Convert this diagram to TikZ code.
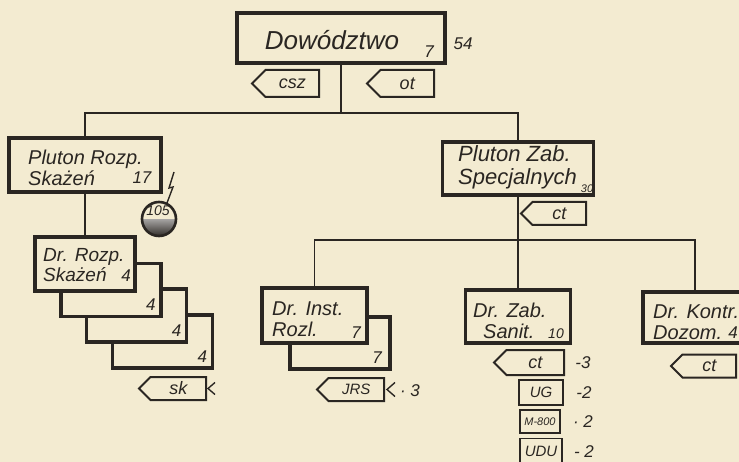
\documentclass[tikz,border=0pt]{standalone}
\usepackage{fontspec}
\setmainfont{Liberation Sans}
\usetikzlibrary{shapes.symbols,calc}
\definecolor{paper}{RGB}{243,235,209}
\definecolor{ink}{RGB}{42,38,34}

\begin{document}
\begin{tikzpicture}[x=1pt,y=-1pt,
  unit/.style={draw=ink,line width=3.4pt,fill=paper,inner sep=0pt},
  txt/.style={text=ink,font=\fontsize{20}{21}\selectfont\itshape,align=left,anchor=west,inner sep=0pt},
  num/.style={text=ink,font=\fontsize{17}{17}\selectfont\itshape,inner sep=0pt},
  tag/.style={draw=ink,line width=2pt,signal,signal to=west,fill=paper,inner sep=0pt,anchor=east,text=ink,font=\fontsize{18}{18}\selectfont\itshape},
  kit/.style={draw=ink,line width=1.8pt,fill=paper,inner sep=0pt,text=ink,font=\fontsize{15}{15}\selectfont\itshape},
  link/.style={draw=ink,line width=1.3pt}]

		% Paper and frame
		\fill[paper] (0,0) rectangle (739,462);
		\useasboundingbox (0,0) rectangle (739,462);

		% Draw the command box
		\node[unit,minimum width=208pt,minimum height=50pt] (dow) at (341,38) {};
		\node[txt,anchor=center,font=\fontsize{26}{26}\selectfont\itshape] (dowt) at (332,40) {Dowództwo};
		\node[num] (down) at (429,52) {7};
		\node[num] (dowm) at (463,44) {54};
		\node[tag,minimum width=67pt,minimum height=27pt] (csz) at (320,83.5) {csz};
		\node[tag,minimum width=67pt,minimum height=27pt] (ot) at (435,83.5) {ot};

		% Draw the two platoons
		\node[unit,minimum width=152pt,minimum height=54pt] (prs) at (85,165) {};
		\node[txt] (prst) at (28,168) {Pluton Rozp.\\Skażeń};
		\node[num] (prsn) at (142,178) {17};
		\node[unit,minimum width=151pt,minimum height=53pt] (pzs) at (518,168.5) {};
		\node[txt,font=\fontsize{22}{23}\selectfont\itshape] (pzst) at (458,167) {Pluton Zab.\\Specjalnych};
		\node[num,font=\fontsize{11}{11}\selectfont\itshape] (pzsn) at (587,189) {30};
		\node[tag,minimum width=65pt,minimum height=23pt] (ct1) at (587,213.5) {ct};

		% Radio station
		\node[circle,minimum size=36pt,inner sep=0pt] (rad) at (159,219) {};
		\begin{scope}
			\clip (rad.center) circle (17pt);
			\shade[top color=ink!45,bottom color=ink] (140,220) rectangle (180,237);
		\end{scope}
		\draw[ink,line width=2.6pt] (rad.center) circle (17pt);
		\node[num,font=\fontsize{14}{14}\selectfont\itshape] (radt) at (158,210.5) {105};
		\draw[ink,line width=1.4pt] (174,172) -- (169,188) -- (173,187) -- (167,203);

		% Draw the squads of the first platoon
		\foreach \i in {3,2,1} {
			\node[unit,minimum width=100pt,minimum height=53pt] (drs\i) at (85+25.8*\i,264+25.8*\i) {};
			\node[num] (drsn\i) at (125+25.8*\i,279+25.8*\i) {4};
		}
		\node[unit,minimum width=100pt,minimum height=54pt] (drs) at (85,264) {};
		\node[txt,font=\fontsize{19}{20}\selectfont\itshape] (drst) at (43,265) {Dr. Rozp.\\Skażeń};
		\node[num] (drsn) at (126,276) {4};
		\node[tag,minimum width=67pt,minimum height=23pt] (sk) at (207,388.5) {sk};
		\draw[ink,line width=1.4pt] ($(sk.east)+(8,-6)$) -- ($(sk.east)+(1,0)$) -- ($(sk.east)+(8,6)$);

		% Draw the squads of the second platoon
		\node[unit,minimum width=100pt,minimum height=52pt] (dis2) at (340,343) {};
		\node[num] (disn2) at (377,358) {7};
		\node[unit,minimum width=105pt,minimum height=55pt] (dis) at (314.5,315.5) {};
		\node[txt] (dist) at (272,319) {Dr. Inst.\\Rozl.};
		\node[num] (disn) at (356,333) {7};
		\node[tag,minimum width=67pt,minimum height=23pt,font=\fontsize{15}{15}\selectfont\itshape] (jrs) at (385,389.5) {JRS};
		\draw[ink,line width=1.4pt] ($(jrs.east)+(10,-7)$) -- ($(jrs.east)+(2,0)$) -- ($(jrs.east)+(10,7)$);
		\node[num] (jrsn) at (410,391) {· 3};

		\node[unit,minimum width=105pt,minimum height=53pt] (dzs) at (518,316.5) {};
		\node[txt] (dzst) at (473,321) {Dr. Zab.\\\hspace*{10pt}Sanit.};
		\node[num,font=\fontsize{14}{14}\selectfont\itshape] (dzsn) at (556,334) {10};
		\node[tag,minimum width=70pt,minimum height=25pt] (ct2) at (565,362.5) {ct};
		\node[num] (ct2n) at (583,363) {-3};
		\node[kit,minimum width=44pt,minimum height=25pt] (ug) at (541,392.5) {UG};
		\node[num] (ugn) at (584,393) {-2};
		\node[kit,minimum width=40pt,minimum height=23pt,font=\fontsize{11}{11}\selectfont\itshape] (m800) at (540,421.5) {M-800};
		\node[num] (m800n) at (583,422) {· 2};
		\node[kit,minimum width=42pt,minimum height=25pt] (udu) at (541,451) {UDU};
		\node[num] (udun) at (584,452) {- 2};

		\node[unit,minimum width=104pt,minimum height=51pt] (dkd) at (695,317.5) {};
		\node[txt] (dkdt) at (653,322) {Dr. Kontr.\\Dozom.};
		\node[num] (dkdn) at (733,333) {4};
		\node[tag,minimum width=65pt,minimum height=23pt] (ct3) at (737,366) {ct};

		% Connectors
		\coordinate (bus1) at (341,113);
		\coordinate (bus2) at (518,240);
		\draw[link] (dow.south) -- (bus1);
		\draw[link] (prs.north) -- (prs.north |- bus1) -- (pzs.north |- bus1) -- (pzs.north);
		\draw[link] (prs.south) -- (drs.north);
		\draw[link] (pzs.south) -- (bus2) -- (dzs.north);
		\draw[link] (dis.north) -- (dis.north |- bus2) -- (dkd.north |- bus2) -- (dkd.north);

	\end{tikzpicture}
\end{document}
